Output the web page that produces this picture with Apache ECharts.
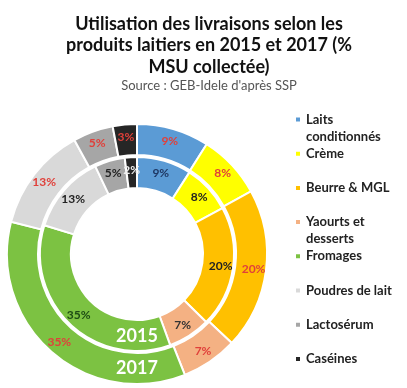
<!DOCTYPE html>
<html><head><meta charset="utf-8">
<script src="https://cdn.jsdelivr.net/npm/echarts@6/dist/echarts.min.js"></script>
<style>html,body{margin:0;padding:0;background:#fff}#c{width:407px;height:388px}</style>
</head><body><div id="c"></div>
<script>
var categories = ['Laits conditionnés', 'Crème', 'Beurre & MGL', 'Yaourts et desserts', 'Fromages', 'Poudres de lait', 'Lactosérum', 'Caséines'];
var legendLabels = ['Laits\nconditionnés', 'Crème', 'Beurre & MGL', 'Yaourts et\ndesserts', 'Fromages', 'Poudres de lait', 'Lactosérum', 'Caséines'];
var values2015 = [9, 8, 20, 7, 35, 13, 5, 2];
var values2017 = [9, 8, 20, 7, 35, 13, 5, 3];
var years = ['2015', '2017'];
var colors = ['#5B9BD5', '#FFFF00', '#FFC000', '#F4B183', '#7CC242', '#D9D9D9', '#A6A6A6', '#262626'];
var innerLabelColors = ['#1F3864', '#222', '#222', '#333', '#1E4D14', '#222', '#222', '#eee'];

var cx = 137, cy = 254;
var font = 'Lato, "Open Sans", sans-serif';

function mk(vals, lc) {
  return categories.map(function (c, i) {
    var d = { name: c, value: vals[i] };
    if (lc) d.label = { color: lc[i] };
    return d;
  });
}

var legends = categories.map(function (c, i) {
  var two = legendLabels[i].indexOf('\n') >= 0;
  return {
    data: [c], left: 289, top: 106 + i * 34.2 - (two ? 17 : 0),
    orient: 'vertical', itemWidth: 6, itemHeight: 6, itemGap: 0, icon: 'rect',
    selectedMode: false,
    formatter: function () { return two ? ' \n' + legendLabels[i] : legendLabels[i]; },
    textStyle: { fontFamily: font, fontWeight: 'bold', fontSize: 13, color: '#222', lineHeight: 17 }
  };
});

var chart = echarts.init(document.getElementById('c'));
chart.setOption({
  backgroundColor: '#fff',
  color: colors,
  title: [{
    text: 'Utilisation des livraisons selon les\nproduits laitiers en 2015 et 2017 (%\nMSU collectée)',
    left: 204, top: 8, textAlign: 'center',
    textStyle: { fontFamily: font, fontWeight: 'bold', fontSize: 18, lineHeight: 21.5, color: '#111' }
  }, {
    text: 'Source : GEB-Idele d\'après SSP', left: 204, top: 74, textAlign: 'center',
    textStyle: { fontFamily: font, fontWeight: 'normal', fontSize: 13, color: '#555' }
  }],
  legend: legends,
  series: [{
    type: 'pie', center: [cx, cy], radius: [66, 97], startAngle: 90, clockwise: true,
    silent: true, animation: false,
    data: mk(values2015, innerLabelColors),
    itemStyle: { borderColor: '#fff', borderWidth: 2 },
    label: { position: 'inside', formatter: '{c}%', fontFamily: font, fontWeight: 'bold', fontSize: 12 },
    labelLine: { show: false }
  }, {
    type: 'pie', center: [cx, cy], radius: [99, 130], startAngle: 90, clockwise: true,
    silent: true, animation: false,
    data: mk(values2017),
    itemStyle: { borderColor: '#fff', borderWidth: 2 },
    label: { position: 'inside', formatter: '{c}%', fontFamily: font, fontWeight: 'bold', fontSize: 12, color: '#E0403A' },
    labelLine: { show: false }
  }],
  graphic: [{
    type: 'text', x: cx, y: cy + 82, z: 100,
    style: { text: years[0], fill: '#fff', fontFamily: font, fontWeight: 'bold', fontSize: 18, align: 'center', verticalAlign: 'middle' }
  }, {
    type: 'text', x: cx, y: cy + 114, z: 100,
    style: { text: years[1], fill: '#fff', fontFamily: font, fontWeight: 'bold', fontSize: 18, align: 'center', verticalAlign: 'middle' }
  }]
});
</script></body></html>
